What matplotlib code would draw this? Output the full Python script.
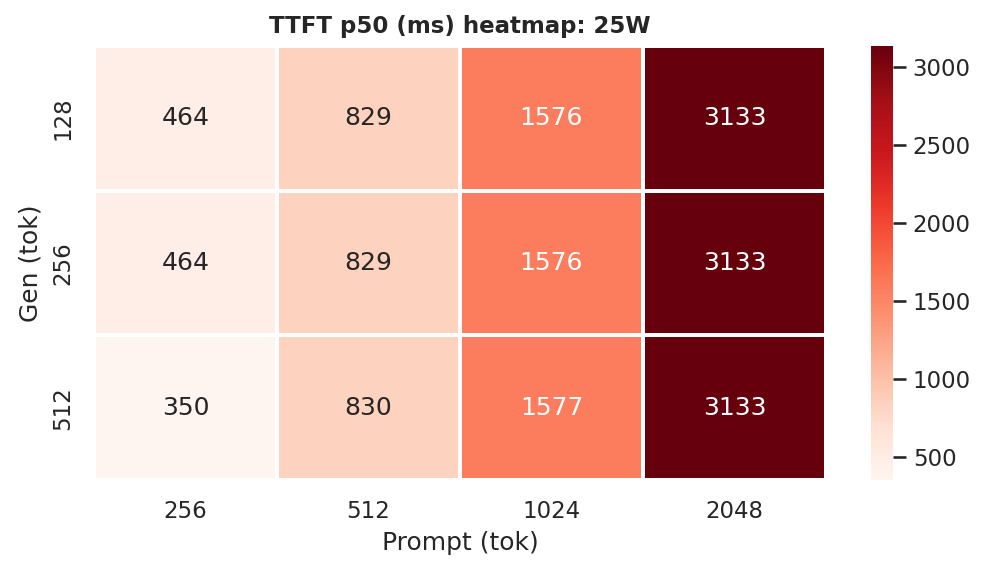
import numpy as np
import pandas as pd
import matplotlib
matplotlib.use('Agg')
import matplotlib.pyplot as plt
import seaborn as sns

prompt_tok = [256, 512, 1024, 2048]
gen_tok = [128, 256, 512]
ttft_128 = [464, 829, 1576, 3133]
ttft_256 = [464, 829, 1576, 3133]
ttft_512 = [350, 830, 1577, 3133]

sns.set_theme(context='notebook', style='darkgrid')

df = pd.DataFrame([ttft_128, ttft_256, ttft_512], index=gen_tok, columns=prompt_tok)

W, H = 988, 573
fig = plt.figure(figsize=(W / 150, H / 150), dpi=150)
ax = fig.add_axes([94 / W, 1 - 480 / H, 732 / W, 434 / H])
cax = fig.add_axes([871 / W, 1 - 480 / H, 22 / W, 434 / H])

sns.heatmap(df, annot=True, fmt='d', cmap='Reds', linewidths=1, linecolor='white',
            ax=ax, cbar_ax=cax)
ax.set_title('TTFT p50 (ms) heatmap: 25W', fontsize=11, fontweight='bold')
ax.set_xlabel('Prompt (tok)')
ax.set_ylabel('Gen (tok)')

fig.savefig('out.png', dpi=150)
